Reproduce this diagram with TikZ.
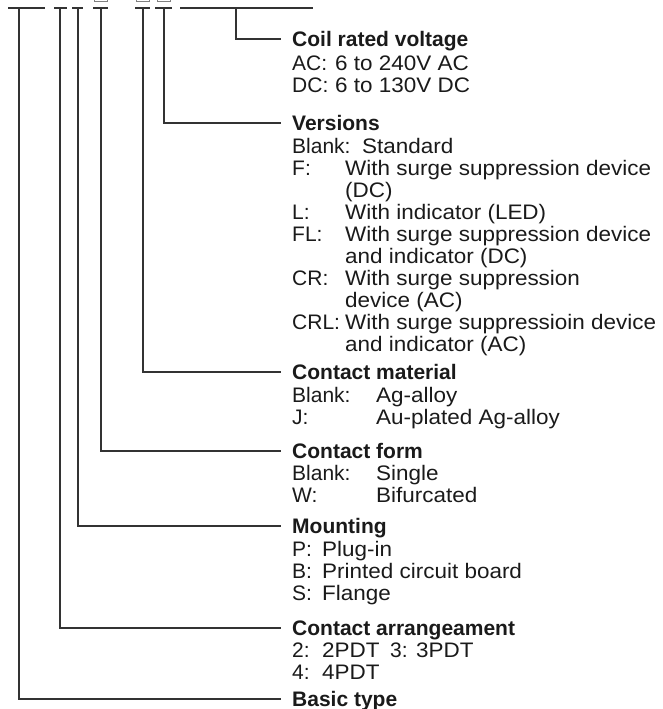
\documentclass[tikz,border=0pt]{standalone}
\usepackage{fontspec}
\setmainfont{Liberation Sans}
\newfontfamily\descfont{Liberation Sans}[FakeStretch=1.07]
\usepackage{xcolor}
\usepackage{array}
\usetikzlibrary{positioning,calc}
\definecolor{inkgray}{HTML}{1A1A1A}
\definecolor{linegray}{HTML}{333333}
\newcolumntype{T}{>{\descfont}l}

\tikzset{
  leader/.style={draw=linegray, line width=1.1pt},
  codebar/.style={draw=linegray, line width=1.8pt},
  blankbox/.style={draw=gray, line width=0.8pt},
  headtxt/.style={anchor=west, inner xsep=11pt, inner ysep=0pt, text height=15pt, text depth=0pt,
    font=\fontsize{21}{22}\selectfont\bfseries, text=inkgray},
  desctxt/.style={anchor=base west, inner sep=0pt, font=\fontsize{21}{22}\selectfont, text=inkgray}
}

\begin{document}
\begin{tikzpicture}[x=1pt,y=-1pt]
    \useasboundingbox (0,0) rectangle (663,709);
    \clip (0,0) rectangle (663,709);
    % Code bars
    \draw[codebar] (8,8) -- (45,8);
    \draw[codebar] (54,8) -- (67,8);
    \draw[codebar] (72,8) -- (83,8);
    \draw[codebar] (93,8) -- (108,8);
    \draw[codebar] (135,8) -- (150,8);
    \draw[codebar] (155,8) -- (172,8);
    \draw[codebar] (180,8) -- (313,8);
    \draw[blankbox] (94,-14) rectangle (107,1.5);
    \draw[blankbox] (136,-14) rectangle (149,1.5);
    \draw[blankbox] (157,-14) rectangle (170,1.5);
    % Branch points
    \coordinate (basicpt) at (19,8);
    \coordinate (arrpt) at (60,8);
    \coordinate (mountpt) at (78,8);
    \coordinate (formpt) at (101,8);
    \coordinate (matpt) at (143,8);
    \coordinate (verpt) at (164,8);
    \coordinate (coilpt) at (236,8);
    % Headings
    \node[headtxt] (coilhd) at (281,39) {Coil rated voltage};
    \node[headtxt] (verhd) at (281,123) {Versions};
    \node[headtxt] (mathd) at (281,372) {Contact material};
    \node[headtxt] (formhd) at (281,451) {Contact form};
    \node[headtxt] (mounthd) at (281,526) {Mounting};
    \node[headtxt] (arrhd) at (281,628) {Contact arrangeament};
    \node[headtxt] (basichd) at (281,699) {Basic type};
    % Descriptions
    \node[desctxt] (coilds) at ($(coilhd.base west)+(11pt,-24pt)$) {%
      \begin{tabular}[t]{@{}p{43pt}@{}T@{}}
        AC: & 6 to 240V AC\\
        DC: & 6 to 130V DC
      \end{tabular}};
    \node[desctxt] (verds) at ($(verhd.base west)+(11pt,-23pt)$) {%
      \begin{tabular}[t]{@{}p{53pt}@{}T@{}}
        \multicolumn{2}{@{}l@{}}{Blank:\ \ {\descfont Standard}}\\
        F: & With surge suppression device\\
           & (DC)\\
        L: & With indicator (LED)\\
        FL: & With surge suppression device\\
            & and indicator (DC)\\
        CR: & With surge suppression\\
            & device (AC)\\
        CRL: & With surge suppressioin device\\
             & and indicator (AC)
      \end{tabular}};
    \node[desctxt] (matds) at ($(mathd.base west)+(11pt,-23pt)$) {%
      \begin{tabular}[t]{@{}p{84pt}@{}T@{}}
        Blank: & Ag-alloy\\
        J: & Au-plated Ag-alloy
      \end{tabular}};
    \node[desctxt] (formds) at ($(formhd.base west)+(11pt,-22pt)$) {%
      \begin{tabular}[t]{@{}p{84pt}@{}T@{}}
        Blank: & Single\\
        W: & Bifurcated
      \end{tabular}};
    \node[desctxt] (mountds) at ($(mounthd.base west)+(11pt,-23pt)$) {%
      \begin{tabular}[t]{@{}p{30pt}@{}T@{}}
        P: & Plug-in\\
        B: & Printed circuit board\\
        S: & Flange
      \end{tabular}};
    \node[desctxt] (arrds) at ($(arrhd.base west)+(11pt,-22pt)$) {%
      \begin{tabular}[t]{@{}p{30pt}@{}>{\descfont}p{68pt}@{}p{26pt}@{}T@{}}
        2: & 2PDT & 3: & 3PDT\\
        4: & 4PDT & &
      \end{tabular}};
    % Leaders
    \draw[leader] (coilpt) |- (coilhd.west);
    \draw[leader] (verpt) |- (verhd.west);
    \draw[leader] (matpt) |- (mathd.west);
    \draw[leader] (formpt) |- (formhd.west);
    \draw[leader] (mountpt) |- (mounthd.west);
    \draw[leader] (arrpt) |- (arrhd.west);
    \draw[leader] (basicpt) |- (basichd.west);
\end{tikzpicture}
\end{document}
